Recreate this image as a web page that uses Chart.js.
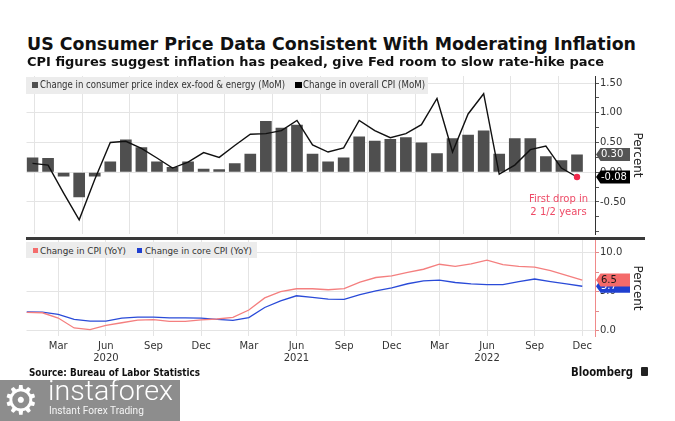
<!DOCTYPE html>
<html>
<head>
<meta charset="utf-8">
<title>US Consumer Price Data</title>
<script src="https://cdn.jsdelivr.net/npm/chart.js@4.4.1/dist/chart.umd.min.js"></script>
<style>
html,body{margin:0;padding:0;background:#fff;}
#page{position:relative;width:675px;height:421px;overflow:hidden;background:#fff;}
canvas{position:absolute;left:0;}
.box{position:absolute;}
.txt{position:absolute;white-space:nowrap;transform-origin:0 0;}
</style>
</head>
<body>
<div id="page">
  <canvas id="cTop" width="675" height="168" style="top:70px;width:675px;height:168px"></canvas>
  <canvas id="cBot" width="675" height="136" style="top:236px;width:675px;height:136px"></canvas>
  <div class="box" style="left:26px;top:77px;width:402px;height:17px;background:#ececec"></div>
  <div class="box" style="left:31.5px;top:81.5px;width:6.5px;height:6.5px;background:#4f4f4f"></div>
  <div class="box" style="left:295px;top:81.5px;width:6.5px;height:6.5px;background:#000"></div>
  <div class="box" style="left:26px;top:242px;width:231px;height:16px;background:#ececec"></div>
  <div class="box" style="left:32.5px;top:247.5px;width:5.5px;height:5.5px;background:#f46d6d"></div>
  <div class="box" style="left:136.5px;top:247.5px;width:5.5px;height:5.5px;background:#1f3fd0"></div>
  <div class="box" style="left:26px;top:237px;width:619px;height:3px;background:#3a3a3a"></div>
  <div class="box" style="left:0;top:380px;width:180px;height:41px;background:#8d8d8d"></div>
  <div class="box" style="left:641px;top:367px;width:7px;height:9px;background:#222;border-radius:1px"></div>
</div>
<script>
// ---------------- DATA ----------------
const months = [
  "Jan 2020","Feb 2020","Mar 2020","Apr 2020","May 2020","Jun 2020","Jul 2020","Aug 2020","Sep 2020","Oct 2020","Nov 2020","Dec 2020",
  "Jan 2021","Feb 2021","Mar 2021","Apr 2021","May 2021","Jun 2021","Jul 2021","Aug 2021","Sep 2021","Oct 2021","Nov 2021","Dec 2021",
  "Jan 2022","Feb 2022","Mar 2022","Apr 2022","May 2022","Jun 2022","Jul 2022","Aug 2022","Sep 2022","Oct 2022","Nov 2022","Dec 2022"
];
const tickMonths = ["Mar","Jun","Sep","Dec"];
const yearLabelMonth = "Jun";

// Change in consumer price index ex-food & energy (MoM), %
const coreMoM = [
  0.25, 0.24, -0.07, -0.42, -0.07, 0.18, 0.55, 0.42, 0.18, 0.09, 0.18, 0.06,
  0.05, 0.15, 0.31, 0.86, 0.75, 0.80, 0.31, 0.18, 0.25, 0.60, 0.53, 0.56,
  0.59, 0.50, 0.32, 0.57, 0.63, 0.70, 0.31, 0.57, 0.57, 0.27, 0.20, 0.30
];
// Change in overall CPI (MoM), %
const overallMoM = [
  0.15, 0.12, -0.35, -0.80, -0.12, 0.50, 0.52, 0.40, 0.24, 0.07, 0.17, 0.33,
  0.25, 0.45, 0.64, 0.65, 0.70, 0.87, 0.46, 0.34, 0.41, 0.87, 0.70, 0.58,
  0.65, 0.80, 1.24, 0.34, 0.98, 1.32, -0.03, 0.12, 0.38, 0.44, 0.07, -0.08
];
// Change in CPI (YoY), %
const cpiYoY = [
  2.35, 2.30, 1.62, 0.35, 0.15, 0.68, 1.02, 1.35, 1.42, 1.20, 1.20, 1.40,
  1.50, 1.72, 2.65, 4.20, 5.02, 5.38, 5.38, 5.25, 5.40, 6.22, 6.82, 7.03,
  7.48, 7.88, 8.52, 8.25, 8.58, 9.05, 8.48, 8.25, 8.15, 7.70, 7.10, 6.5
];
// Change in core CPI (YoY), %
const coreYoY = [
  2.40, 2.38, 2.10, 1.45, 1.22, 1.22, 1.62, 1.75, 1.75, 1.65, 1.65, 1.62,
  1.45, 1.32, 1.68, 2.98, 3.82, 4.48, 4.28, 4.05, 4.02, 4.62, 5.10, 5.48,
  6.02, 6.38, 6.48, 6.18, 6.00, 5.90, 5.92, 6.30, 6.63, 6.30, 6.00, 5.70
];
const topYTicks = [-1.0, -0.75, -0.5, -0.25, 0, 0.25, 0.5, 0.75, 1.0, 1.25, 1.5];
const topYLabeled = [-0.5, 0, 0.5, 1.0, 1.5];
const botYTicks = [0, 2.5, 5, 7.5, 10];
const botYLabeled = [0, 5, 10];

// ---------------- TEXT ----------------
const page = document.getElementById('page');
const mc = document.createElement('canvas').getContext('2d');
function placeText(o){
  const fam = o.family || '"DejaVu Sans", sans-serif';
  const wt = o.bold ? 'bold' : (o.weight || 'normal');
  const size = o.size || o.cap / 0.729;
  mc.font = wt + ' ' + size + 'px ' + fam;
  const m = mc.measureText(o.t);
  const fa = (m.fontBoundingBoxAscent !== undefined) ? m.fontBoundingBoxAscent : size*0.928;
  const fd = (m.fontBoundingBoxDescent !== undefined) ? m.fontBoundingBoxDescent : size*0.236;
  const d = document.createElement('div');
  d.className = 'txt';
  d.textContent = o.t;
  d.style.font = wt + ' ' + size + 'px ' + fam;
  d.style.lineHeight = size + 'px';
  d.style.left = o.x + 'px';
  d.style.top = (o.base - ((size - (fa + fd)) / 2 + fa)) + 'px';
  d.style.color = o.color || '#333';
  if (o.w) d.style.transform = 'scaleX(' + (o.w / m.width) + ')';
  page.appendChild(d);
}
[
  {t:'US Consumer Price Data Consistent With Moderating Inflation', x:26.5, base:50.7, w:609, cap:13.4, bold:true, color:'#111'},
  {t:'CPI figures suggest inflation has peaked, give Fed room to slow rate-hike pace', x:27, base:67.3, w:577, cap:9.2, bold:true, color:'#111'},
  {t:'Change in consumer price index ex-food & energy (MoM)', x:40, base:88.3, w:245, cap:7, color:'#333'},
  {t:'Change in overall CPI (MoM)', x:302.5, base:88.3, w:122, cap:7, color:'#333'},
  {t:'Change in CPI (YoY)', x:40, base:254.2, w:86, cap:6.8, color:'#333'},
  {t:'Change in core CPI (YoY)', x:144.5, base:254.2, w:107, cap:6.8, color:'#333'},
  {t:'Source: Bureau of Labor Statistics', x:29.4, base:376, w:171, cap:7, bold:true, color:'#111'},
  {t:'Bloomberg', x:571, base:376.5, w:62, cap:8.5, bold:true, color:'#111'},
  {t:'instaforex', x:48, base:400, w:125, size:27, weight:'300', family:'Roboto, sans-serif', color:'#fff'},
  {t:'Instant Forex Trading', x:49, base:415, w:95, size:11.5, family:'Roboto, sans-serif', color:'#f4f4f4'},
  {t:'\u2699', x:3, base:414, size:40, color:'#fff'}
].forEach(placeText);

// ---------------- CHARTS ----------------
Chart.defaults.font.family = '"DejaVu Sans", sans-serif';
Chart.defaults.color = '#333';

const tickIdx = months.map((m, i) => i).filter(i => tickMonths.includes(months[i].split(' ')[0]));

function monthAxis(showLabels){
  return {
    type:'linear', position:'bottom', min:0, max:35.8, bounds:'data', offset:false,
    afterBuildTicks: s => { s.ticks = tickIdx.map(v => ({value:v})); },
    grid:{display:true, drawOnChartArea:true, drawTicks:false, color:'#e4e4e4', lineWidth:1},
    border:{display:false},
    ticks:{display:showLabels, autoSkip:false, maxRotation:0, minRotation:0, padding:4, color:'#333',
      font:{size:10, lineHeight:1.2},
      callback: v => { const p = months[v].split(' '); return p[0] === yearLabelMonth ? [p[0], p[1]] : p[0]; }},
    afterFit: s => { s.height = showLabels ? 36 : 0; s.paddingLeft = 0; s.paddingRight = 0; }
  };
}

function drawTag(ctx, x, y, w, h, bg, fg, text){
  const tip = 4.5;
  ctx.save();
  ctx.fillStyle = bg;
  ctx.beginPath();
  ctx.moveTo(x, y);
  ctx.lineTo(x + tip, y - h/2);
  ctx.lineTo(x + w, y - h/2);
  ctx.lineTo(x + w, y + h/2);
  ctx.lineTo(x + tip, y + h/2);
  ctx.closePath();
  ctx.fill();
  ctx.fillStyle = fg;
  ctx.font = '10px "DejaVu Sans", sans-serif';
  ctx.textBaseline = 'middle';
  ctx.textAlign = 'left';
  ctx.fillText(text, x + tip + 0.5, y + 0.5);
  ctx.restore();
}

const tagPlugin = {
  id:'tags',
  afterDraw(chart, args, opts){
    const ys = chart.scales.y, ctx = chart.ctx, x = chart.chartArea.right + 1;
    (opts.items || []).forEach(t => drawTag(ctx, x, ys.getPixelForValue(t.value), 34, 13, t.bg, t.fg, t.text));
  }
};
const notePlugin = {
  id:'note',
  afterDatasetsDraw(chart, args, opts){
    if (!opts.lines) return;
    const meta = chart.getDatasetMeta(opts.dataset);
    const pt = meta.data[meta.data.length - 1];
    const ctx = chart.ctx;
    ctx.save();
    ctx.fillStyle = opts.color;
    ctx.font = '10px "DejaVu Sans", sans-serif';
    ctx.textAlign = 'center';
    ctx.textBaseline = 'middle';
    opts.lines.forEach((l, i) => ctx.fillText(l, pt.x + opts.dx, pt.y + opts.dy + i * 13));
    ctx.restore();
  }
};

function yAxis(o){
  return {
    type:'linear', position:'right', min:o.min, max:o.max, bounds:'data',
    afterBuildTicks: s => { s.ticks = o.ticks.map(v => ({value:v})); },
    grid:{drawOnChartArea:true, drawTicks:true, tickLength:4,
      color: c => (c.tick && o.labeled.includes(c.tick.value)) ? '#e4e4e4' : 'rgba(0,0,0,0)',
      tickColor:o.tickColor, lineWidth:1},
    border:{display:true, color:o.border, width:1},
    ticks:{padding:1, color:'#333', font:{size:10},
      callback: v => o.labeled.includes(v) ? v.toFixed(o.dec) : ''},
    title:{display:true, text:'Percent', color:'#222', font:{size:12}, padding:{top:31, bottom:0}},
    afterFit: s => { s.width = 80; s.paddingTop = 0; s.paddingBottom = 0; }
  };
}

const last = a => a[a.length - 1];

new Chart(document.getElementById('cTop'), {
  type:'bar',
  data:{
    datasets:[
      {type:'bar', label:'Change in consumer price index ex-food & energy (MoM)',
       data: coreMoM.map((v, i) => ({x:i, y:v})), xAxisID:'xb', yAxisID:'y',
       backgroundColor:'#4f4f4f', borderWidth:0, categoryPercentage:1, barPercentage:0.75, order:2},
      {type:'line', label:'Change in overall CPI (MoM)',
       data: overallMoM.map((v, i) => ({x:i, y:v})), xAxisID:'xb', yAxisID:'y',
       borderColor:'#111', borderWidth:1.4, tension:0, fill:false,
       pointRadius: c => c.dataIndex === overallMoM.length - 1 ? 3.2 : 0,
       pointBackgroundColor:'#f0284a', pointBorderWidth:0, order:1}
    ]
  },
  options:{
    responsive:false, animation:false, devicePixelRatio:1, events:[],
    layout:{padding:{left:26.5, right:0, top:6, bottom:0.5}},
    plugins:{legend:{display:false}, tooltip:{enabled:false},
      tags:{items:[
        {value:last(coreMoM), text:last(coreMoM).toFixed(2), bg:'#555', fg:'#fff'},
        {value:last(overallMoM), text:last(overallMoM).toFixed(2), bg:'#000', fg:'#fff'}
      ]},
      note:{dataset:1, lines:['First drop in', '2 1/2 years'], dx:-18.5, dy:22, color:'#ee4a66'}
    },
    scales:{
      xb:{type:'linear', display:false, min:-0.386, max:36.157, bounds:'data', offset:false},
      xm: monthAxis(false),
      y: yAxis({min:-1.038, max:1.618, ticks:topYTicks, labeled:topYLabeled, dec:2, border:'#333', tickColor:'#555'})
    }
  },
  plugins:[tagPlugin, notePlugin]
});

new Chart(document.getElementById('cBot'), {
  type:'line',
  data:{
    datasets:[
      {label:'Change in CPI (YoY)', data: cpiYoY.map((v, i) => ({x:i, y:v})), xAxisID:'xm', yAxisID:'y',
       borderColor:'#f47f7f', borderWidth:1.3, pointRadius:0, tension:0, fill:false, order:1},
      {label:'Change in core CPI (YoY)', data: coreYoY.map((v, i) => ({x:i, y:v})), xAxisID:'xm', yAxisID:'y',
       borderColor:'#2a4bd8', borderWidth:1.3, pointRadius:0, tension:0, fill:false, order:2}
    ]
  },
  options:{
    responsive:false, animation:false, devicePixelRatio:1, events:[],
    layout:{padding:{left:26.5, right:0, top:4, bottom:0}},
    plugins:{legend:{display:false}, tooltip:{enabled:false},
      tags:{items:[
        {value:last(coreYoY), text:last(coreYoY).toFixed(1), bg:'#1f3fd0', fg:'#fff'},
        {value:last(cpiYoY), text:last(cpiYoY).toFixed(1), bg:'#f46a6a', fg:'#1a1a1a'}
      ]}
    },
    scales:{
      xm: monthAxis(true),
      y: yAxis({min:-0.68, max:11.63, ticks:botYTicks, labeled:botYLabeled, dec:1, border:'#f08a8a', tickColor:'#e08a8a'})
    }
  },
  plugins:[tagPlugin]
});
</script>
</body>
</html>
